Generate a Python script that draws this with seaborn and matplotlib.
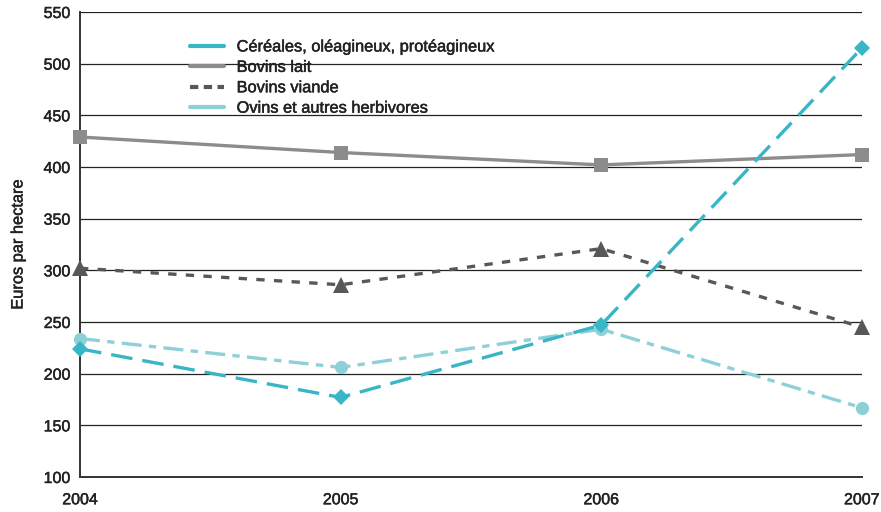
import matplotlib
matplotlib.use("Agg")
import matplotlib.pyplot as plt
import matplotlib.patheffects as pe
from matplotlib.lines import Line2D
import seaborn as sns
import pandas as pd

# Data: average amount per hectare by farm type
years = [2004, 2005, 2006, 2007]
series_names = [
    "Céréales, oléagineux, protéagineux",
    "Bovins lait",
    "Bovins viande",
    "Ovins et autres herbivores",
]
cereales = [224, 177, 247, 515]
bovins_lait = [429, 414, 402, 412]
bovins_viande = [302, 286, 321, 245]
ovins = [234, 206, 243, 167]
y_ticks = [100, 150, 200, 250, 300, 350, 400, 450, 500, 550]

values = [cereales, bovins_lait, bovins_viande, ovins]
df = pd.DataFrame(
    [(y, name, v) for name, vals in zip(series_names, values) for y, v in zip(years, vals)],
    columns=["annee", "type", "euros"],
)

colors = {
    series_names[0]: "#38b6c6",
    series_names[1]: "#8c8c8c",
    series_names[2]: "#585858",
    series_names[3]: "#8ed0d8",
}
dashes = {
    series_names[0]: (6.5, 3),
    series_names[1]: "",
    series_names[2]: (2.5, 2.8),
    series_names[3]: (6, 2.2, 2.2, 2.2),
}
markers = {
    series_names[0]: "D",
    series_names[1]: "s",
    series_names[2]: "^",
    series_names[3]: "o",
}
msizes = {series_names[0]: 8.5, series_names[1]: 10, series_names[2]: 11, series_names[3]: 9.5}

sns.set_style("white")
plt.rcParams["font.family"] = ["Liberation Sans", "DejaVu Sans"]

fig = plt.figure(figsize=(8.81, 5.12), dpi=100)
ax = fig.add_axes([0.0908, 0.0684, 0.8873, 0.9082])

for y in y_ticks[1:]:
    ax.axhline(y, color="#222222", lw=0.9, zorder=1)

draw_order = [series_names[1], series_names[2], series_names[3], series_names[0]]
for name in draw_order:
    sub = df[df["type"] == name]
    sns.lineplot(
        data=sub, x="annee", y="euros", ax=ax,
        color=colors[name], lw=2.4, marker=markers[name], markersize=msizes[name],
        markeredgewidth=0, legend=False, zorder=3,
    )
    line = ax.lines[-1]
    if dashes[name]:
        line.set_dashes(dashes[name])
    line.set_clip_on(False)

ax.set_xlim(2004, 2007)
ax.set_ylim(100, 550)
ax.set_xticks(years)
ax.set_xticklabels([str(y) for y in years])
ax.set_yticks(y_ticks)
ax.set_xlabel("")
ax.set_ylabel("Euros par hectare", fontsize=11.8, color="#222222", labelpad=13)

for side in ["top", "right"]:
    ax.spines[side].set_visible(False)
for side in ["left", "bottom"]:
    ax.spines[side].set_color("#333333")
    ax.spines[side].set_linewidth(1.4)
ax.tick_params(axis="both", which="both", direction="out", length=4, width=1,
               color="#444444", labelsize=11.5, labelcolor="#222222")
ax.tick_params(axis="x", pad=7)
ax.tick_params(axis="y", pad=3)

legend_styles = {
    series_names[0]: "-",
    series_names[1]: "-",
    series_names[2]: (0, (2, 1.3)),
    series_names[3]: "-",
}
handles = [
    Line2D([0], [0], color=colors[n], lw=3, linestyle=legend_styles[n])
    for n in series_names
]
leg = ax.legend(
    handles, series_names, loc="upper left", bbox_to_anchor=(0.1322, 0.955),
    frameon=False, fontsize=11.8, handlelength=2.1, handletextpad=0.75,
    labelspacing=0.33, borderaxespad=0,
)

# Slightly heavier text strokes for a medium-weight look
heavy = [pe.withStroke(linewidth=0.35, foreground="#222222")]
for t in ax.get_xticklabels() + ax.get_yticklabels() + leg.get_texts() + [ax.yaxis.label]:
    t.set_color("#222222")
    t.set_path_effects(heavy)

fig.savefig("out.png", dpi=100)
